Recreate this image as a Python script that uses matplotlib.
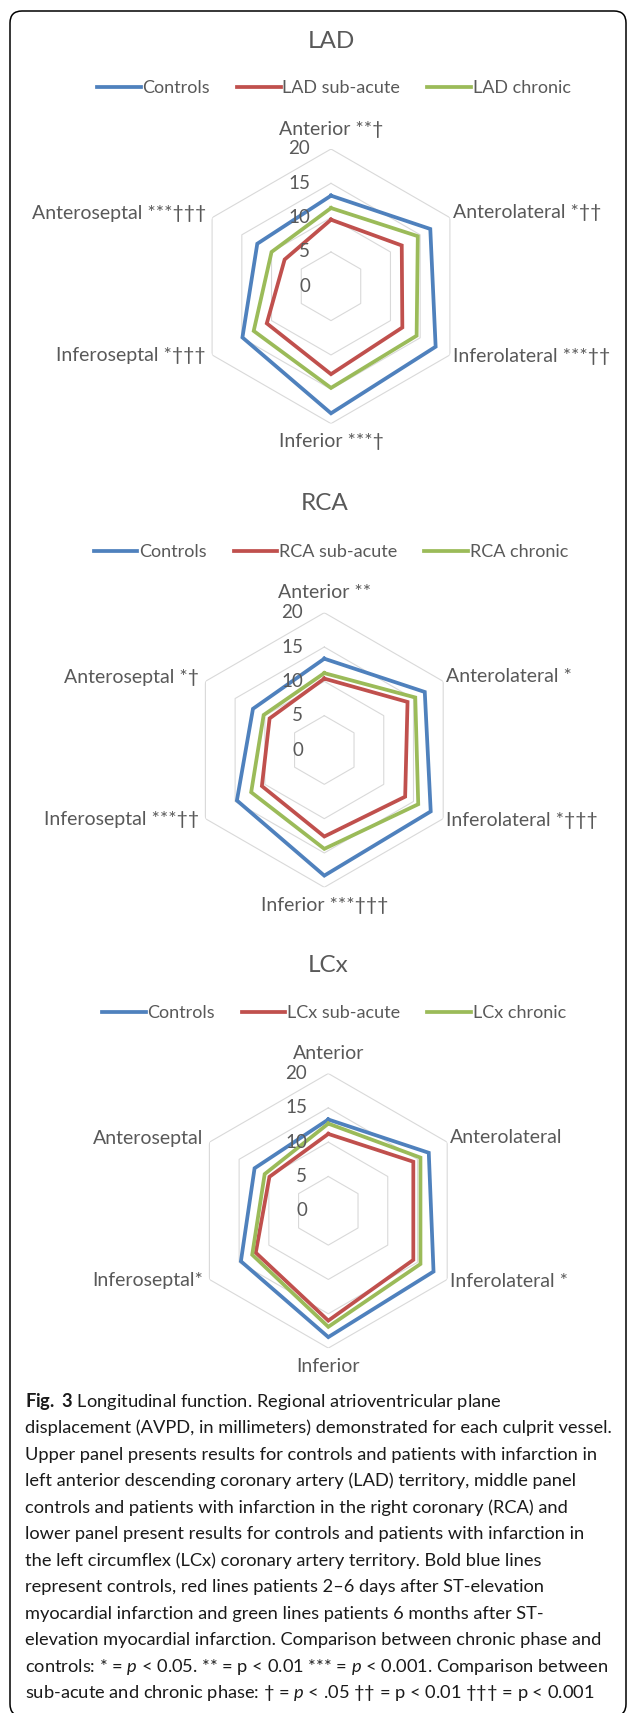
import numpy as np
import matplotlib
matplotlib.use('Agg')
import matplotlib.pyplot as plt
from matplotlib.patches import FancyBboxPatch

plt.rcParams['font.family'] = ['Lato', 'DejaVu Sans']
plt.rcParams['mathtext.fontset'] = 'custom'
plt.rcParams['mathtext.rm'] = 'Lato'
plt.rcParams['mathtext.it'] = 'Lato:italic'
plt.rcParams['mathtext.bf'] = 'Lato:bold'

# AVPD per segment (mm)
segments = ['Anterior', 'Anterolateral', 'Inferolateral', 'Inferior', 'Inferoseptal', 'Anteroseptal']
rings = [0, 5, 10, 15, 20]

controls_lad = [13.2, 16.7, 17.6, 18.5, 14.9, 12.4]
subacute_lad = [9.7, 11.9, 12.0, 12.8, 10.8, 7.8]
chronic_lad = [11.4, 14.6, 14.4, 14.8, 13.0, 10.0]
marks_lad = [' **†', ' *††', ' ***††', ' ***†', ' *†††', ' ***†††']

controls_rca = [13.3, 16.9, 17.9, 18.3, 14.7, 12.0]
subacute_rca = [10.4, 14.0, 13.6, 12.6, 10.5, 9.2]
chronic_rca = [11.2, 15.3, 15.8, 14.4, 12.3, 10.2]
marks_rca = [' **', ' *', ' *†††', ' ***†††', ' ***††', ' *†']

controls_lcx = [13.3, 16.9, 17.7, 18.4, 14.7, 12.4]
subacute_lcx = [11.2, 14.3, 14.3, 16.0, 12.2, 9.9]
chronic_lcx = [12.7, 15.5, 15.5, 16.9, 12.8, 10.7]
marks_lcx = ['', '', ' *', '', '*', '']

caption = [
    r'$\mathbf{Fig.\ 3}$ Longitudinal function. Regional atrioventricular plane',
    'displacement (AVPD, in millimeters) demonstrated for each culprit vessel.',
    'Upper panel presents results for controls and patients with infarction in',
    'left anterior descending coronary artery (LAD) territory, middle panel',
    'controls and patients with infarction in the right coronary (RCA) and',
    'lower panel present results for controls and patients with infarction in',
    'the left circumflex (LCx) coronary artery territory. Bold blue lines',
    'represent controls, red lines patients 2–6 days after ST-elevation',
    'myocardial infarction and green lines patients 6 months after ST-',
    'elevation myocardial infarction. Comparison between chronic phase and',
    r'controls: * = $\mathit{p}$ < 0.05. ** = p < 0.01 *** = $\mathit{p}$ < 0.001. Comparison between',
    r'sub-acute and chronic phase: † = $\mathit{p}$ < .05 †† = p < 0.01 ††† = p < 0.001',
]

BLUE, RED, GREEN = '#4F81BD', '#C0504D', '#9BBB59'
GREY_TXT = '#595959'
GRID = '#D9D9D9'

W, H = 627, 1713
R = 137.3  # pixel radius of the 20 mm ring

fig = plt.figure(figsize=(W / 100, H / 100), dpi=100)

# label offsets (pixels) around the outer ring
label_pos = [
    ((0, 20), 'center'),
    ((3, 5), 'left'),
    ((3, -2), 'left'),
    ((0, -18), 'center'),
    ((-6, -1), 'right'),
    ((-6, 4), 'right'),
]


def radar_panel(name, cx, cy, title_y, legend_x, legend_y, controls, subacute, chronic, marks):
    ax = fig.add_axes([(cx - R) / W, 1 - (cy + R) / H, 2 * R / W, 2 * R / H], projection='polar')
    ax.set_theta_zero_location('N')
    ax.set_theta_direction(-1)
    ax.set_ylim(0, 20)
    ax.axis('off')

    theta = np.deg2rad(np.arange(len(segments)) * 60.0)
    closed = np.append(theta, theta[0])

    for r in rings[1:]:
        ax.plot(closed, [r] * len(closed), color=GRID, lw=0.8, zorder=1)

    handles = []
    for vals, col, lab in [(controls, BLUE, 'Controls'),
                           (subacute, RED, f'{name} sub-acute'),
                           (chronic, GREEN, f'{name} chronic')]:
        ln, = ax.plot(closed, np.append(vals, vals[0]), color=col, lw=2.7,
                      solid_joinstyle='miter', label=lab, zorder=3, clip_on=False)
        handles.append(ln)

    for r in rings:
        ax.annotate(str(r), xy=(0, r), xytext=(-21, 0), textcoords='offset pixels',
                    ha='right', va='center', fontsize=13.5, color=GREY_TXT, zorder=5,
                    annotation_clip=False)

    for t, seg, mk, (off, ha) in zip(theta, segments, marks, label_pos):
        ax.annotate(seg + mk, xy=(t, 20), xytext=off, textcoords='offset pixels',
                    ha=ha, va='center', fontsize=14, color=GREY_TXT, annotation_clip=False)

    fig.text(cx / W, 1 - title_y / H, name, ha='center', va='center',
             fontsize=17.5, color=GREY_TXT)
    fig.legend(handles=handles, loc='center', bbox_to_anchor=(legend_x / W, 1 - legend_y / H),
               ncol=3, frameon=False, fontsize=13, labelcolor=GREY_TXT,
               handlelength=2.4, handletextpad=0.1, columnspacing=1.5, borderpad=0)


radar_panel('LAD', 331, 286.3, 41, 334, 88, controls_lad, subacute_lad, chronic_lad, marks_lad)
radar_panel('RCA', 324.3, 750, 503, 331, 552, controls_rca, subacute_rca, chronic_rca, marks_rca)
radar_panel('LCx', 328.3, 1210.8, 965, 334, 1013, controls_lcx, subacute_lcx, chronic_lcx, marks_lcx)

# caption: shrink the type until the longest line fits the text block
cap_texts = [fig.text(25 / W, 1 - (1401.7 + i * 26.5) / H, line, ha='left', va='center',
                      fontsize=14.5, color='#1A1A1A')
             for i, line in enumerate(caption)]
renderer = fig.canvas.get_renderer()
widest = max(t.get_window_extent(renderer).width for t in cap_texts)
scale = 587.0 / widest
for t in cap_texts:
    t.set_fontsize(14.5 * scale)

# frame around the figure
frame = FancyBboxPatch((0.10, -0.03), 6.16, 17.05,
                       boxstyle='round,pad=0,rounding_size=0.12',
                       transform=fig.dpi_scale_trans, fill=False,
                       edgecolor='black', lw=1.1)
fig.patches.append(frame)

fig.savefig('out.png', dpi=100)
